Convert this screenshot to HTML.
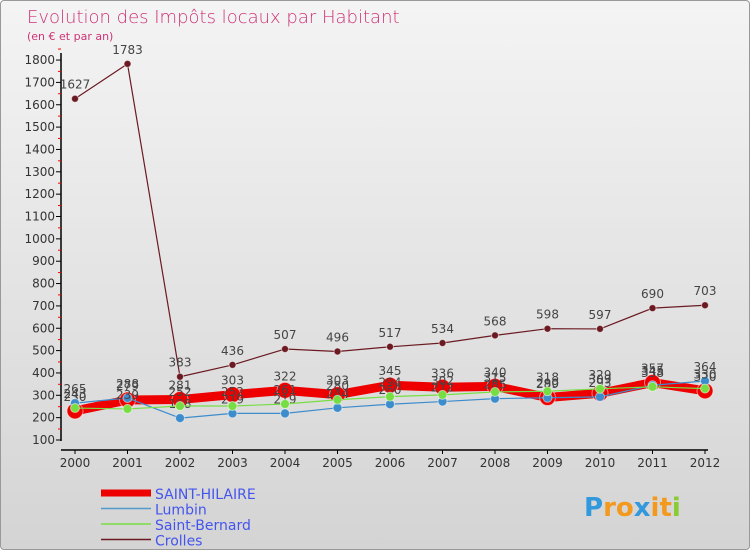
<!DOCTYPE html>
<html><head><meta charset="utf-8"><style>
body{margin:0;width:750px;height:550px;overflow:hidden;font-family:"Liberation Sans",sans-serif}
#wrap{position:relative;width:748px;height:548px;border:1px solid #999;border-radius:4px;background:linear-gradient(#f4f4f4,#d4d4d4)}
</style></head><body>
<div id="wrap">
<svg id="chart" width="748" height="548" style="position:absolute;left:0;top:0"></svg>
</div>
<script>
const years=[2000,2001,2002,2003,2004,2005,2006,2007,2008,2009,2010,2011,2012];
const saintHilaire=[230,279,281,303,322,303,345,336,340,290,309,357,320];
const lumbin=[265,288,198,219,219,244,260,272,285,289,293,345,364];
const saintBernard=[243,239,252,252,261,280,294,302,315,318,329,338,330];
const crolles=[1627,1783,383,436,507,496,517,534,568,598,597,690,703];
const yTicks=[100,200,300,400,500,600,700,800,900,1000,1100,1200,1300,1400,1500,1600,1700,1800];
const seriesNames=["SAINT-HILAIRE","Lumbin","Saint-Bernard","Crolles"];
const NS="http://www.w3.org/2000/svg";
const svg=document.getElementById('chart');
function xs(i){return 74+i*52.5;}
function ys(v){return 439-(v-100)*0.2235;}
function mk(t,a,p){const e=document.createElementNS(NS,t);for(const k in a)e.setAttribute(k,a[k]);(p||svg).appendChild(e);return e;}
function txt(x,y,s,a){const e=mk('text',Object.assign({x:x,y:y,'font-family':'DejaVu Sans, sans-serif'},a));e.textContent=s;return e;}
let t=txt(26,22,'Evolution des Impôts locaux par Habitant',{'font-size':18,fill:'#cc3377','font-weight':'200'});

t=txt(26,39,'(en € et par an)',{'font-size':11,fill:'#cc3377'});

let ax=mk('line',{x1:60,y1:52,x2:60,y2:440,stroke:'#000','stroke-width':1.5});

yTicks.forEach(v=>{const y=ys(v);mk('line',{x1:55,y1:y,x2:60,y2:y,stroke:'#000'});
 mk('line',{x1:57,y1:y-11,x2:60,y2:y-11,stroke:'red'});
 const l=txt(54,y+4,v,{'font-size':12,fill:'#333','text-anchor':'end'});
 });
ax=mk('line',{x1:60,y1:449,x2:707,y2:449,stroke:'#000','stroke-width':1.5});

years.forEach((yr,i)=>{mk('line',{x1:xs(i),y1:449,x2:xs(i),y2:453,stroke:'#000'});
 const l=txt(xs(i),466,yr,{'font-size':12,fill:'#333','text-anchor':'middle'});
 });
function series(vals,color,w,r,name){
 const g=mk('g',{});
 mk('polyline',{points:vals.map((v,i)=>xs(i)+','+ys(v)).join(' '),fill:'none',stroke:color,'stroke-width':w,'stroke-linejoin':'round'},g);
 vals.forEach((v,i)=>{const c=mk('circle',{cx:xs(i),cy:ys(v),r:r,fill:color,stroke:'#fff','stroke-opacity':0.5},g);
  
  const l=txt(xs(i),ys(v)-10,v,{'font-size':12,fill:'#444','text-anchor':'middle'},g);
  });
}
series(crolles,'#6b1a22',1.2,3.5,'crolles');
series(saintHilaire,'#ee0000',9,8,'saint-hilaire');
series(lumbin,'#3d8ccc',1.2,4.5,'lumbin');
series(saintBernard,'#77dd44',1.2,4.5,'saint-bernard');
const lc=['#ee0000','#5599cc','#77dd44','#6b1a22'],lw=[7,1.5,1.5,1.5];
seriesNames.forEach((n,i)=>{const y=492+i*15.5;
 const g=mk('g',{});
 mk('line',{x1:100,y1:y,x2:150,y2:y,stroke:lc[i],'stroke-width':lw[i]},g);
 txt(154,y+6,n,{'font-size':14,fill:'#4455ee'},g);});
const logo=mk('text',{x:583,y:515,'font-size':26,'font-weight':'bold','font-family':'DejaVu Sans, sans-serif'});

[['P','#3399dd'],['ro','#f39a1e'],['x','#3399dd'],['it','#f39a1e'],['i','#88cc33']].forEach(p=>{const s=mk('tspan',{fill:p[1]},logo);s.textContent=p[0];});
</script>
</body></html>
